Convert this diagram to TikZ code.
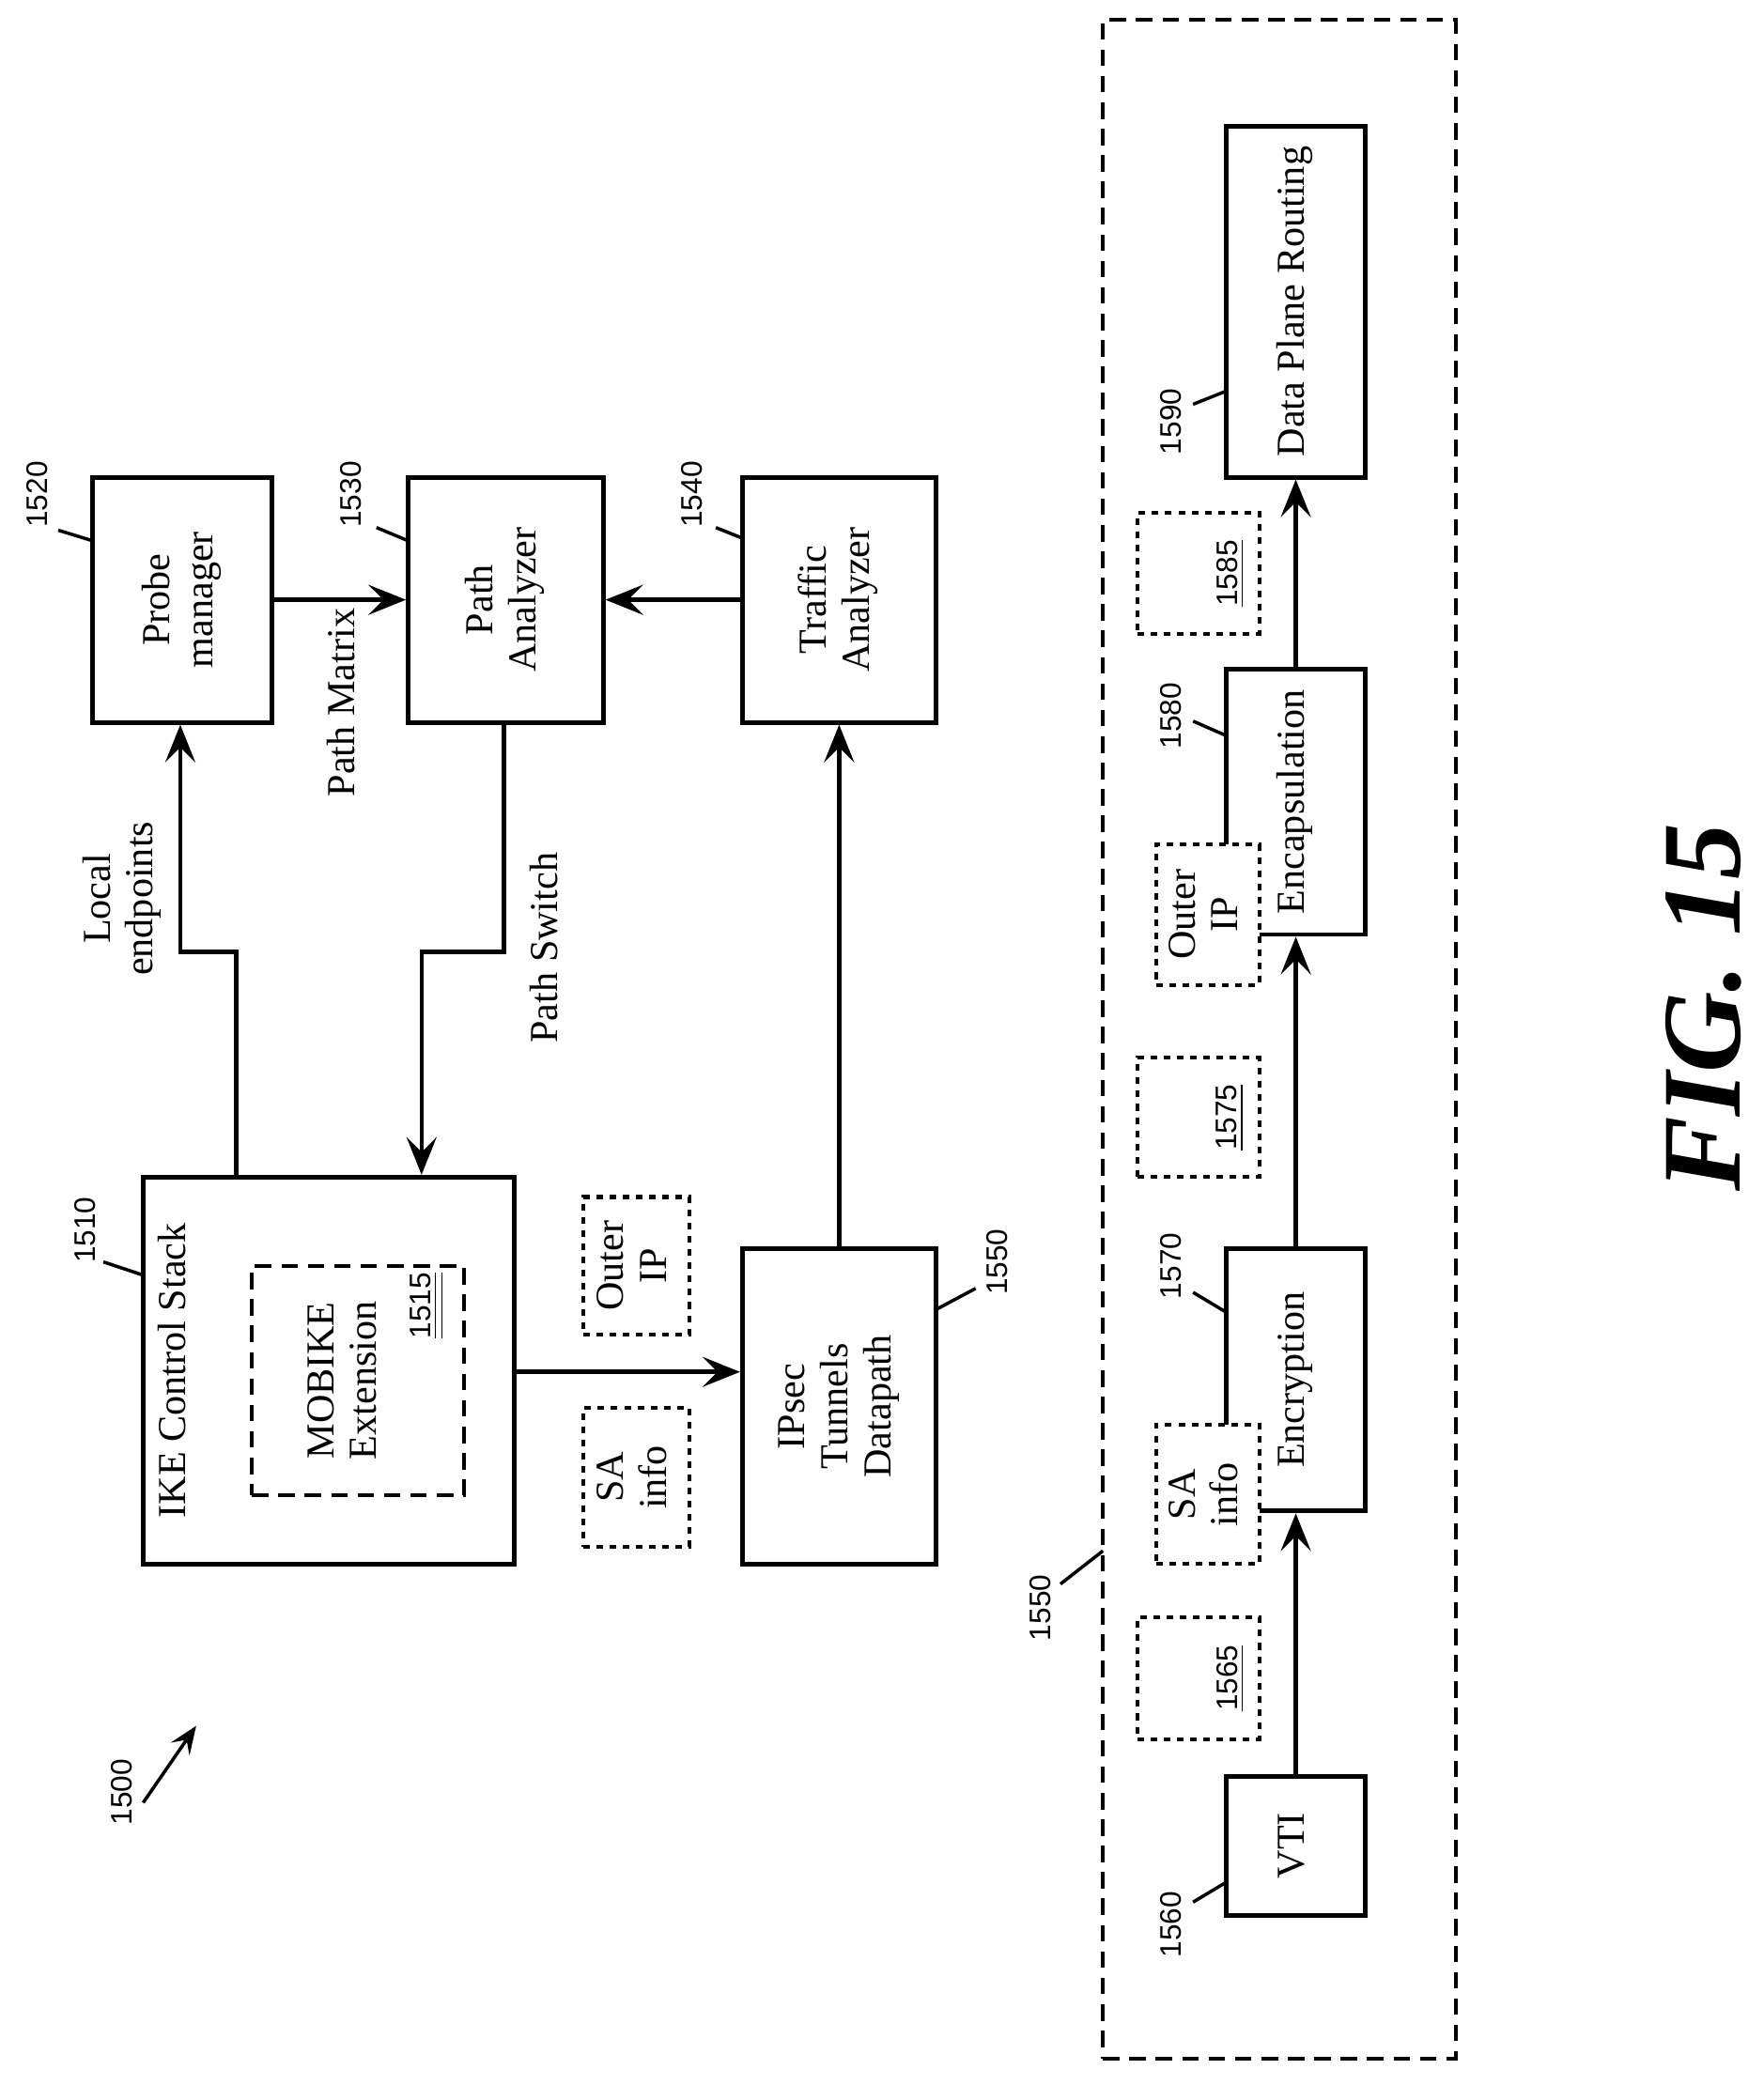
\documentclass[tikz,border=0pt]{standalone}
\usepackage{fontspec}
\setmainfont{Liberation Serif}
\setsansfont{Liberation Sans}
\usetikzlibrary{arrows.meta,positioning}
\tikzset{
  box/.style={draw, line width=1.4pt, inner sep=0pt, font=\fontsize{12}{13}\selectfont},
  dotbox/.style={draw, line width=1.2pt, dash pattern=on 2pt off 2pt, inner sep=0pt, font=\fontsize{12}{13}\selectfont},
  dashbox/.style={draw, line width=1.2pt, dash pattern=on 5pt off 3pt, inner sep=0pt},
  flow/.style={line width=1.3pt, -{Stealth[length=4mm,width=3.2mm,inset=1.6mm]}},
  ref/.style={font=\sffamily\fontsize{9}{10}\selectfont, rotate=90, inner sep=1pt},
  lead/.style={line width=1pt},
  lbl/.style={font=\fontsize{12}{13}\selectfont, rotate=90, align=center, inner sep=1pt}
}
\newcommand{\rt}[1]{\rotatebox{90}{\begin{tabular}{@{}c@{}}#1\end{tabular}}}
\begin{document}
\begin{tikzpicture}[x=0.1411mm, y=-0.1411mm]
\useasboundingbox (0,0) rectangle (1330,1573);

% upper blocks
\node (probe) [box, minimum width=135*0.1411mm, minimum height=185*0.1411mm] at (137.5,452.5) {\rt{Probe\\manager}};
\node (path) [box, minimum width=147*0.1411mm, minimum height=185*0.1411mm] at (381.5,452.5) {\rt{Path\\Analyzer}};
\node (traffic) [box, minimum width=146*0.1411mm, minimum height=185*0.1411mm] at (633,452.5) {\rt{Traffic\\Analyzer}};
\node (ike) [box, minimum width=280*0.1411mm, minimum height=292*0.1411mm] at (248,1034) {};
\node (ikelbl) [lbl] at (130,1034) {IKE Control Stack};
\node (mobike) [dashbox, minimum width=160*0.1411mm, minimum height=173*0.1411mm] at (270,1041.5) {};
\node (mobikelbl) [lbl] at (258,1041.5) {MOBIKE\\Extension};
\node (n1515) [ref] at (322,985) {\underline{\underline{1515}}};
\node (ipsec) [box, minimum width=146*0.1411mm, minimum height=238*0.1411mm] at (633,1061) {\rt{IPsec\\Tunnels\\Datapath}};
\node (outer1) [dotbox, minimum width=80*0.1411mm, minimum height=104*0.1411mm] at (480,955) {\rt{Outer\\IP}};
\node (sa1) [dotbox, minimum width=80*0.1411mm, minimum height=105*0.1411mm] at (480,1114.5) {\rt{SA\\info}};

% connectors upper
\coordinate (le) at (136,718);
\coordinate (ps) at (318,718);
\draw [flow] (ike.north -| 178,0) |- (le) -- (probe.south -| le);
\draw [flow] (path.south -| 380,0) |- (ps) -- (ike.north -| ps);
\draw [flow] (probe.east) -- (path.west);
\draw [flow] (traffic.west) -- (path.east);
\draw [flow] (ike.east |- 0,1035) -- (ipsec.west |- 0,1035);
\draw [flow] (ipsec.north) -- (traffic.south);
\node (pathmatrix) [lbl] at (257,530) {Path Matrix};
\node (localep) [lbl] at (92,678) {Local\\endpoints};
\node (pathswitch) [lbl] at (410,715) {Path Switch};

% reference numbers upper
\node (n1520) [ref] at (28,373) {1520};
\draw [lead] (44,400) -- (70,408);
\node (n1530) [ref] at (265,373) {1530};
\draw [lead] (284,398) -- (308,408);
\node (n1540) [ref] at (522,373) {1540};
\draw [lead] (540,398) -- (560,406);
\node (n1510) [ref] at (64,928) {1510};
\draw [lead] (78,952) -- (108,962);
\node (n1550a) [ref] at (752,952) {1550};
\draw [lead] (706,988) -- (736,972);
\node (n1500) [ref] at (92,1352) {1500};
\draw [flow, line width=1pt, -{Stealth[length=3mm,width=2.4mm,inset=1.2mm]}] (108,1360) -- (148,1302);

% datapath detail
\node (dp) [dashbox, minimum width=266*0.1411mm, minimum height=1538*0.1411mm] at (965,784) {};
\node (n1550b) [ref] at (785,1213) {1550};
\draw [lead] (800,1195) -- (832,1170);
\node (vti) [box, minimum width=105*0.1411mm, minimum height=105*0.1411mm] at (977.5,1392.5) {\rt{VTI}};
\node (encr) [box, minimum width=105*0.1411mm, minimum height=198*0.1411mm] at (977.5,1041) {\rt{Encryption}};
\node (encap) [box, minimum width=105*0.1411mm, minimum height=200*0.1411mm] at (977.5,605) {\rt{Encapsulation}};
\node (dpr) [box, minimum width=105*0.1411mm, minimum height=265*0.1411mm] at (977.5,227.5) {\rt{Data Plane Routing}};
\draw [flow] (vti.north) -- (encr.south);
\draw [flow] (encr.north) -- (encap.south);
\draw [flow] (encap.north) -- (dpr.south);
\node (d1565) [dotbox, minimum width=92*0.1411mm, minimum height=92*0.1411mm] at (904,1266) {};
\node (l1565) [ref] at (928,1266) {\underline{1565}};
\node (sa2) [dotbox, fill=white, minimum width=78*0.1411mm, minimum height=105*0.1411mm] at (911,1127.5) {\rt{SA\\info}};
\node (d1575) [dotbox, minimum width=92*0.1411mm, minimum height=90*0.1411mm] at (904,843) {};
\node (l1575) [ref] at (928,843) {\underline{1575}};
\node (outer2) [dotbox, fill=white, minimum width=78*0.1411mm, minimum height=106*0.1411mm] at (911,690) {\rt{Outer\\IP}};
\node (d1585) [dotbox, minimum width=92*0.1411mm, minimum height=91*0.1411mm] at (904,432.5) {};
\node (l1585) [ref] at (928,432.5) {\underline{1585}};
\node (n1590) [ref] at (883,318) {1590};
\draw [lead] (900,305) -- (925,295);
\node (n1580) [ref] at (883,540) {1580};
\draw [lead] (900,544) -- (925,555);
\node (n1570) [ref] at (883,955) {1570};
\draw [lead] (900,975) -- (925,990);
\node (n1560) [ref] at (883,1452) {1560};
\draw [lead] (900,1435) -- (925,1420);

% figure label
\node (fig) [rotate=90, font=\bfseries\itshape\fontsize{34}{36}\selectfont] at (1285,760) {FIG. 15};
\end{tikzpicture}
\end{document}
